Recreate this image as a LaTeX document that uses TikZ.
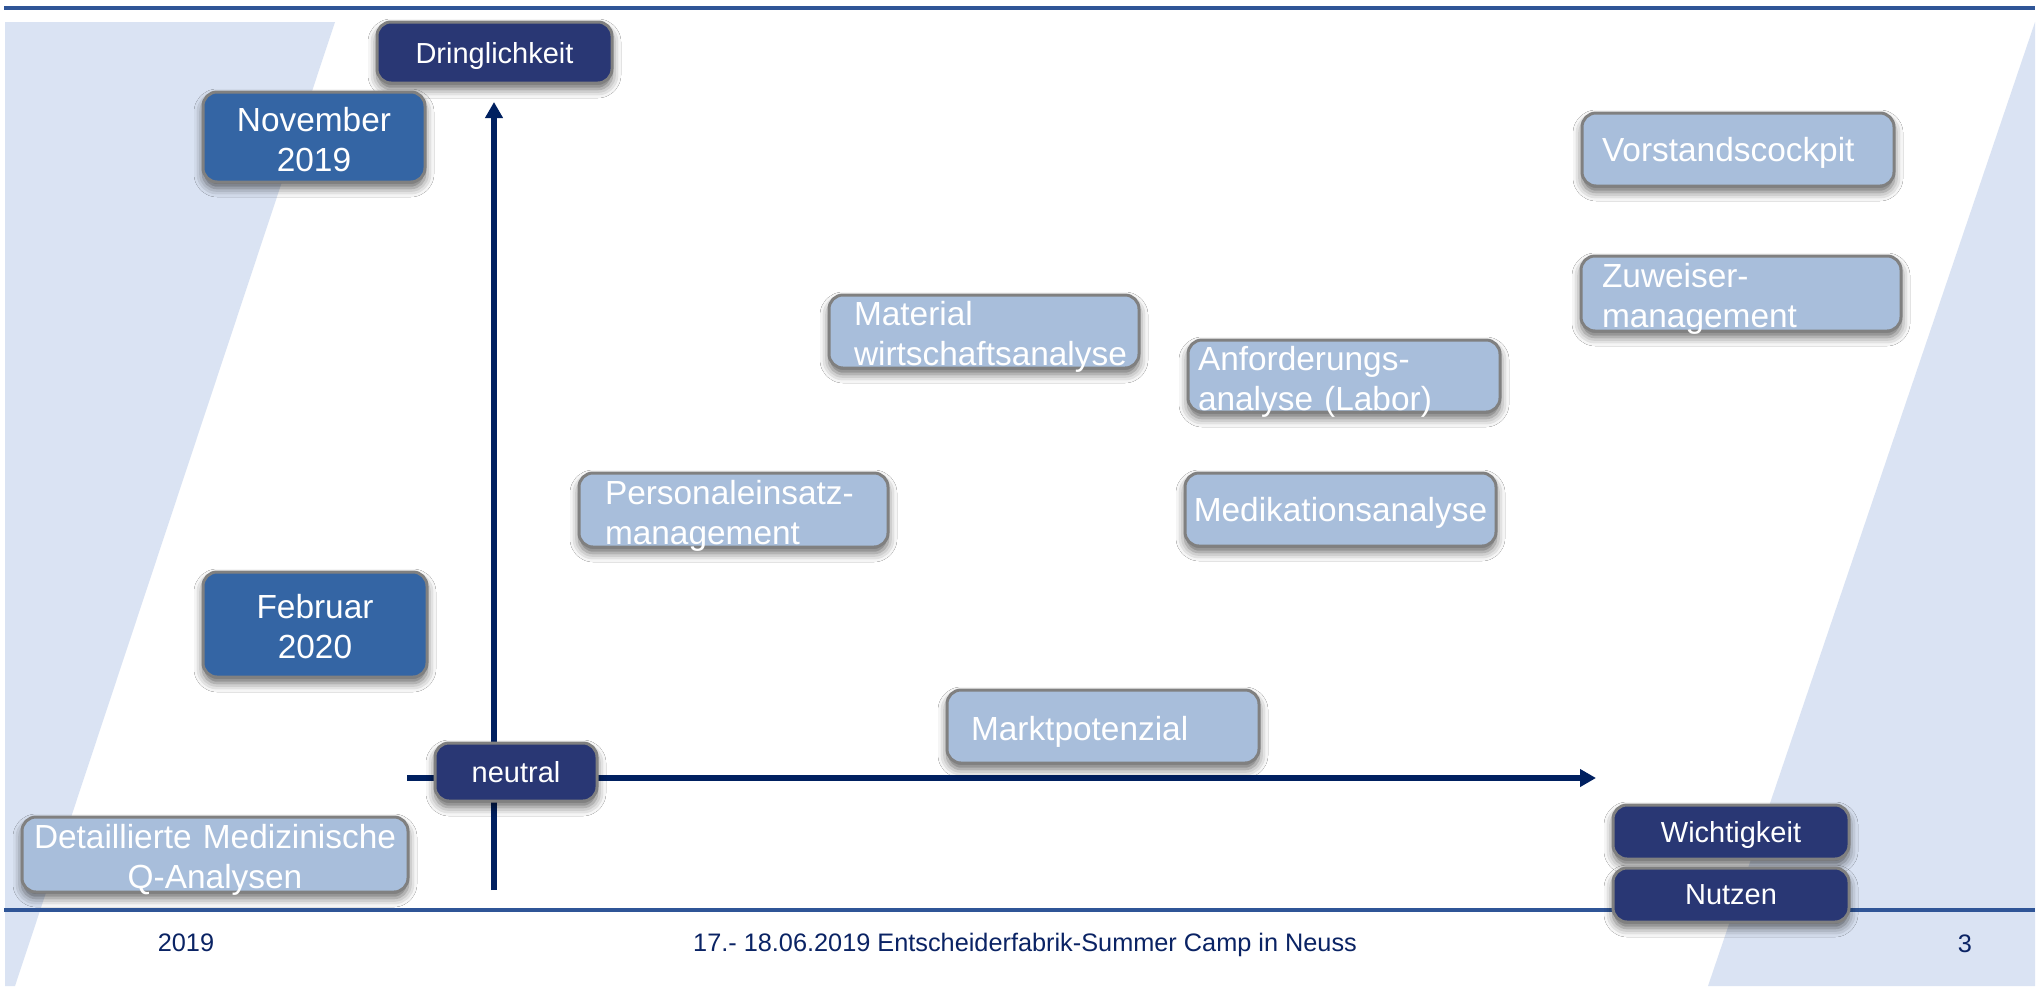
\documentclass[tikz,border=0pt]{standalone}
\usepackage{fontspec}
\setmainfont{Liberation Sans}
\usetikzlibrary{arrows.meta,shadows.blur}
\definecolor{bgblue}{RGB}{218,227,243}
\definecolor{lineblue}{RGB}{47,85,151}
\definecolor{arrowblue}{RGB}{0,32,96}
\definecolor{footblue}{RGB}{10,35,100}
\definecolor{lightfill}{RGB}{168,190,219}
\definecolor{darkfill}{RGB}{41,55,116}
\definecolor{midfill}{RGB}{52,101,164}
\definecolor{boxgray}{RGB}{128,128,128}
\tikzset{
  box/.style={rounded corners=14pt, draw=boxgray, line width=3pt, inner sep=0pt,
    text=white, text depth=0pt,
    blur shadow={shadow xshift=0pt, shadow yshift=-6pt, shadow blur radius=9pt, shadow opacity=60}},
  twoline/.style={text depth=36pt},
  lightbox/.style={box, fill=lightfill, font=\fontsize{33.4}{40}\selectfont, align=left},
  darkbox/.style={box, fill=darkfill, font=\fontsize{29}{34}\selectfont, align=center},
  datebox/.style={box, fill=midfill, font=\fontsize{33.4}{40}\selectfont, align=center},
  axis/.style={draw=arrowblue, line width=5.5pt, -{Triangle[length=16pt,width=17pt]}},
  foot/.style={text=footblue, font=\fontsize{25.3}{30}\selectfont, inner sep=0pt}
}
\begin{document}
\begin{tikzpicture}[x=1pt,y=-1pt]
\useasboundingbox (0,0) rectangle (2044,986);
\fill[white] (0,0) rectangle (2044,986);
% background shapes
\fill[bgblue] (5,22) -- (335,22) -- (15,986) -- (5,986) -- cycle;
\fill[bgblue] (2035,22) -- (2035,986) -- (1708,986) -- cycle;
% rules
\draw[lineblue, line width=4pt] (4,8) -- (2035,8);
\draw[lineblue, line width=4pt] (4,910) -- (2035,910);
% axes
\coordinate (vtop) at (494,102);
\coordinate (vbot) at (494,890);
\coordinate (hl) at (407,778);
\coordinate (hr) at (1596,778);
\draw[axis] (vbot) -- (vtop);
\draw[axis] (hl) -- (hr);
% axis labels
\node[darkbox, minimum width=235pt, minimum height=61pt, text width=220pt] (dring) at (494.5,52.5) {Dringlichkeit};
\node[darkbox, minimum width=162pt, minimum height=58pt, text width=150pt] (neutral) at (516,772) {neutral};
\node[darkbox, minimum width=236pt, minimum height=54pt, text width=220pt] (wicht) at (1731,832) {Wichtigkeit};
\node[darkbox, minimum width=236pt, minimum height=54pt, text width=220pt] (nutzen) at (1731,895) {Nutzen};
% dates
\node[datebox, twoline, minimum width=222pt, minimum height=90pt, text width=210pt] (nov) at (314,137) {November\\2019};
\node[datebox, twoline, minimum width=224pt, minimum height=105pt, text width=210pt] (feb) at (315,624.5) {Februar\\2020};
% topics
\node[lightbox, twoline, minimum width=386pt, minimum height=75pt, text width=380pt, align=center] (detail) at (215,854.5) {Detaillierte Medizinische\\Q-Analysen};
\node[lightbox, twoline, minimum width=309pt, minimum height=74pt, text width=257pt] (personal) at (733.5,510) {Personaleinsatz-\\management};
\node[lightbox, twoline, minimum width=310pt, minimum height=73pt, text width=260pt] (material) at (984,331.5) {Material\\wirtschaftsanalyse};
\node[lightbox, twoline, minimum width=312pt, minimum height=72pt, text width=292pt] (anford) at (1344,376) {Anforderungs-\\analyse (Labor)};
\node[lightbox, minimum width=311pt, minimum height=73pt, text width=300pt, align=center] (medik) at (1340.5,509.5) {Medikationsanalyse};
\node[lightbox, text height=27pt, minimum width=312pt, minimum height=73pt, text width=264pt] (markt) at (1103,726.5) {Marktpotenzial};
\node[lightbox, minimum width=312pt, minimum height=73pt, text width=272pt] (vorstand) at (1738,149.5) {Vorstandscockpit};
\node[lightbox, twoline, minimum width=320pt, minimum height=75pt, text width=278pt] (zuweiser) at (1741,293.5) {Zuweiser-\\management};
% footer
\node[foot, anchor=base] (year) at (186,951) {2019};
\node[foot, anchor=base west] (event) at (693,951) {17.- 18.06.2019 Entscheiderfabrik-Summer Camp in Neuss};
\node[foot, anchor=base] (page) at (1965,952) {3};
\end{tikzpicture}
\end{document}
